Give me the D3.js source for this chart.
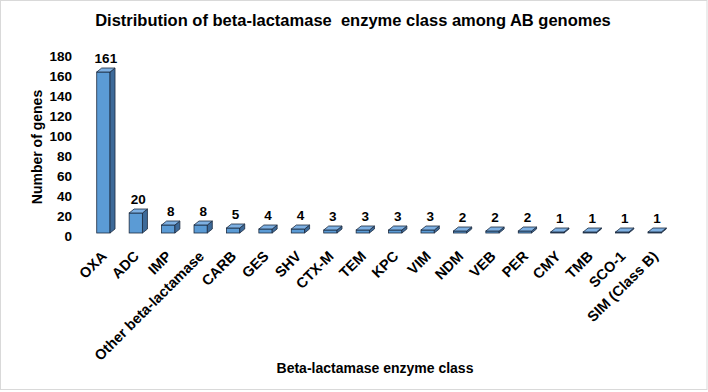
<!DOCTYPE html>
<html>
<head>
<meta charset="utf-8">
<script src="https://cdn.jsdelivr.net/npm/d3@7"></script>
<style>
  body { margin: 0; background: #fff; }
  svg { display: block; font-family: "Liberation Sans", Arial, sans-serif; }
</style>
</head>
<body>
<svg id="chart" width="708" height="392"></svg>
<script>
const categories = ["OXA", "ADC", "IMP", "Other beta-lactamase", "CARB", "GES", "SHV", "CTX-M", "TEM", "KPC", "VIM", "NDM", "VEB", "PER", "CMY", "TMB", "SCO-1", "SIM (Class B)"];
const counts = [161, 20, 8, 8, 5, 4, 4, 3, 3, 3, 3, 2, 2, 2, 1, 1, 1, 1];
const yTicks = [0, 20, 40, 60, 80, 100, 120, 140, 160, 180];
const titleText = "Distribution of beta-lactamase  enzyme class among AB genomes";
const xTitle = "Beta-lactamase enzyme class";
const yTitle = "Number of genes";

const svg = d3.select("#chart");
const W = 708, H = 392;

svg.append("rect").attr("x", 0.5).attr("y", 0.5).attr("width", W - 1.5).attr("height", 389)
  .attr("fill", "#fff").attr("stroke", "#d9d9d9").attr("stroke-width", 1);

const x = d3.scaleBand().domain(categories).range([87, 671]).paddingInner(0.59).paddingOuter(0.3);
const y = d3.scaleLinear().domain([0, 180]).range([233, 53]);

const dx = 5, dy = -4;
const colFront = "#5b9bd5", colSide = "#3d6a99", colTop = "#7eb0e2", colEdge = "#1d2b3f";

const data = categories.map((c, i) => ({ c, v: counts[i] }));
const g = svg.append("g");

const bars = g.selectAll("g.bar").data(data).join("g").attr("class", "bar");
bars.each(function(d) {
  const el = d3.select(this);
  const x0 = x(d.c), w = x.bandwidth();
  const yt = y(d.v), yb = y(0);
  el.append("rect").attr("x", x0).attr("y", yt).attr("width", w).attr("height", yb - yt)
    .attr("fill", colFront).attr("stroke", colEdge).attr("stroke-width", 0.8);
  el.append("polygon")
    .attr("points", [[x0 + w, yt], [x0 + w + dx, yt + dy], [x0 + w + dx, yb + dy], [x0 + w, yb]].join(" "))
    .attr("fill", colSide).attr("stroke", colEdge).attr("stroke-width", 0.8).attr("stroke-linejoin", "round");
  el.append("polygon")
    .attr("points", [[x0, yt], [x0 + dx, yt + dy], [x0 + w + dx, yt + dy], [x0 + w, yt]].join(" "))
    .attr("fill", colTop).attr("stroke", colEdge).attr("stroke-width", 0.8).attr("stroke-linejoin", "round");
  el.append("text").attr("x", x0 + w / 2 + dx / 2).attr("y", yt + dy - 5)
    .attr("text-anchor", "middle").attr("font-size", 13.5).attr("font-weight", "bold").attr("fill", "#000")
    .text(d.v);
});

// y axis (labels only)
const yAxis = d3.axisLeft(y).tickValues(yTicks).tickSize(0).tickPadding(0);
const ya = svg.append("g").attr("transform", "translate(72,3)").call(yAxis);
ya.select(".domain").remove();
ya.selectAll("text").attr("font-size", 13.5).attr("font-weight", "bold").attr("fill", "#000")
  .attr("font-family", "Liberation Sans, Arial, sans-serif");

// x axis labels rotated
const xAxis = d3.axisBottom(x).tickSize(0).tickPadding(0);
const xa = svg.append("g").attr("transform", "translate(0,250)").call(xAxis);
xa.select(".domain").remove();
xa.selectAll("text").attr("font-size", 14.5).attr("font-weight", "bold").attr("fill", "#000")
  .attr("font-family", "Liberation Sans, Arial, sans-serif")
  .attr("text-anchor", "end").attr("dy", "0.7em")
  .attr("transform", "translate(-3,0) rotate(-45)");

// titles
svg.append("text").attr("x", 353).attr("y", 26).attr("text-anchor", "middle")
  .attr("font-size", 16.5).attr("font-weight", "bold").attr("fill", "#000")
  .attr("style", "white-space:pre").text(titleText);
svg.append("text").attr("x", 375).attr("y", 373).attr("text-anchor", "middle")
  .attr("font-size", 14).attr("font-weight", "bold").attr("fill", "#000").text(xTitle);
svg.append("text").attr("transform", "translate(42,147) rotate(-90)").attr("text-anchor", "middle")
  .attr("font-size", 14).attr("font-weight", "bold").attr("fill", "#000").text(yTitle);
</script>
</body>
</html>
